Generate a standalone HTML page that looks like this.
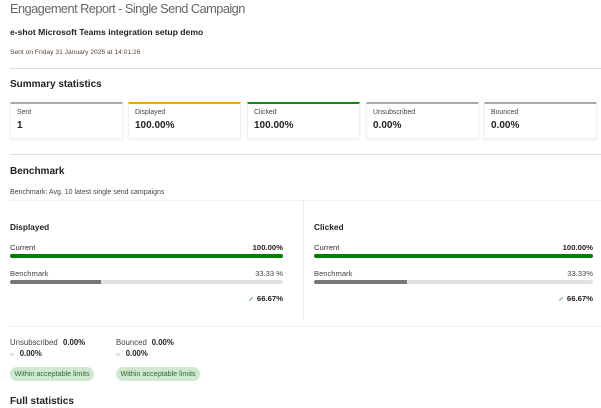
<!DOCTYPE html>
<html><head><meta charset="utf-8">
<style>
*{margin:0;padding:0;box-sizing:border-box}
html,body{width:601px;height:408px;background:#fff;overflow:hidden}
body{position:relative;font-family:"Liberation Sans",Arial,sans-serif;color:#333}
.t{position:absolute;white-space:nowrap;line-height:1}
.b{font-weight:bold}
.hr{position:absolute;left:10px;right:0;height:1px;background:#dcdcdc}
.card{position:absolute;top:102px;height:37px;width:113px;background:#fff;border:1px solid #f1f1f1;border-top:2px solid #aaa;box-shadow:0 1px 2px rgba(0,0,0,0.06)}
.card .l{position:absolute;left:6px;top:6px;font-size:6.9px;color:#444;line-height:1;white-space:nowrap}
.card .v{position:absolute;left:6px;top:17px;font-size:10px;font-weight:bold;color:#222;line-height:1;white-space:nowrap}
.bar{position:absolute;height:3.5px;border-radius:2px}
.pill{position:absolute;height:14px;width:84px;border-radius:7px;background:#cfe8cf;color:#2f6a2f;font-size:7.2px;line-height:14px;text-align:center;white-space:nowrap}
.sq{position:absolute;width:4px;height:3px;background:#e4e4e4}
</style></head><body>

<div class="t" style="left:10px;top:2.6px;font-size:12.8px;color:#666;letter-spacing:-0.55px">Engagement Report - Single Send Campaign</div>
<div class="t b" style="left:10px;top:27.8px;font-size:8.6px;color:#222">e-shot Microsoft Teams integration setup demo</div>
<div class="t" style="left:10px;top:49.8px;font-size:6.7px;color:#5a4636">Sent on Friday 31 January 2025 at 14:01:26</div>
<div class="hr" style="top:68px"></div>

<div class="t b" style="left:10px;top:79.8px;font-size:10px;color:#222">Summary statistics</div>

<div class="card" style="left:10px"><div class="l">Sent</div><div class="v">1</div></div>
<div class="card" style="left:128px;border-top-color:#f5a300"><div class="l">Displayed</div><div class="v">100.00%</div></div>
<div class="card" style="left:247px;border-top-color:#138a13"><div class="l">Clicked</div><div class="v">100.00%</div></div>
<div class="card" style="left:366px"><div class="l">Unsubscribed</div><div class="v">0.00%</div></div>
<div class="card" style="left:484px"><div class="l">Bounced</div><div class="v">0.00%</div></div>

<div class="hr" style="top:154px"></div>

<div class="t b" style="left:10px;top:166.5px;font-size:10px;color:#222">Benchmark</div>
<div class="t" style="left:10px;top:189.1px;font-size:7px;color:#444">Benchmark: Avg. 10 latest single send campaigns</div>
<div class="hr" style="top:200px;background:#f1f1f1"></div>
<div style="position:absolute;left:303px;top:200px;width:1px;height:120px;background:#eeeeee"></div>

<!-- Displayed -->
<div class="t b" style="left:10px;top:222.5px;font-size:8.3px;color:#222">Displayed</div>
<div class="t" style="left:10px;top:243.7px;font-size:7.6px;color:#333">Current</div>
<div class="t b" style="right:318px;top:243.7px;font-size:7.7px;color:#222">100.00%</div>
<div class="bar" style="left:10px;top:254.3px;width:273px;background:#008000"></div>
<div class="t" style="left:10px;top:269.7px;font-size:7.6px;color:#444">Benchmark</div>
<div class="t" style="right:318px;top:269.7px;font-size:7.6px;color:#444">33.33 %</div>
<div class="bar" style="left:10px;top:280.4px;width:273px;background:#e2e2e2"></div>
<div class="bar" style="left:10px;top:280.4px;width:91px;background:#787878;border-radius:2px 0 0 2px"></div>
<svg style="position:absolute;left:249px;top:297px" width="4" height="4" viewBox="0 0 4 4"><path d="M0.3 3.7 L3.7 0.3" stroke="#3a9a3a" stroke-width="0.8"/></svg>
<div class="t b" style="right:318px;top:295.2px;font-size:7.7px;color:#222">66.67%</div>

<!-- Clicked -->
<div class="t b" style="left:314px;top:222.5px;font-size:8.3px;color:#222">Clicked</div>
<div class="t" style="left:314px;top:243.7px;font-size:7.6px;color:#333">Current</div>
<div class="t b" style="right:8px;top:243.7px;font-size:7.7px;color:#222">100.00%</div>
<div class="bar" style="left:314px;top:254.3px;width:279px;background:#008000"></div>
<div class="t" style="left:314px;top:269.7px;font-size:7.6px;color:#444">Benchmark</div>
<div class="t" style="right:8px;top:269.7px;font-size:7.6px;color:#444">33.33%</div>
<div class="bar" style="left:314px;top:280.4px;width:279px;background:#e2e2e2"></div>
<div class="bar" style="left:314px;top:280.4px;width:93px;background:#787878;border-radius:2px 0 0 2px"></div>
<svg style="position:absolute;left:559px;top:297px" width="4" height="4" viewBox="0 0 4 4"><path d="M0.3 3.7 L3.7 0.3" stroke="#3a9a3a" stroke-width="0.8"/></svg>
<div class="t b" style="right:8px;top:295.2px;font-size:7.7px;color:#222">66.67%</div>

<div class="hr" style="top:326px;background:#f1f1f1"></div>

<!-- Unsubscribed / Bounced -->
<div class="t" style="left:10px;top:338.5px;font-size:7.8px;color:#444">Unsubscribed</div>
<div class="t b" style="left:63px;top:338.5px;font-size:7.8px;color:#222">0.00%</div>
<div class="sq" style="left:10px;top:352.5px"></div>
<div class="t b" style="left:19.7px;top:350.2px;font-size:7.8px;color:#222">0.00%</div>
<div class="pill" style="left:10px;top:366.7px">Within acceptable limits</div>

<div class="t" style="left:116px;top:338.5px;font-size:7.8px;color:#444">Bounced</div>
<div class="t b" style="left:151.7px;top:338.5px;font-size:7.8px;color:#222">0.00%</div>
<div class="sq" style="left:116px;top:352.5px"></div>
<div class="t b" style="left:125.7px;top:350.2px;font-size:7.8px;color:#222">0.00%</div>
<div class="pill" style="left:116px;top:366.7px">Within acceptable limits</div>

<div class="t b" style="left:10px;top:396.5px;font-size:10px;color:#222">Full statistics</div>

</body></html>
